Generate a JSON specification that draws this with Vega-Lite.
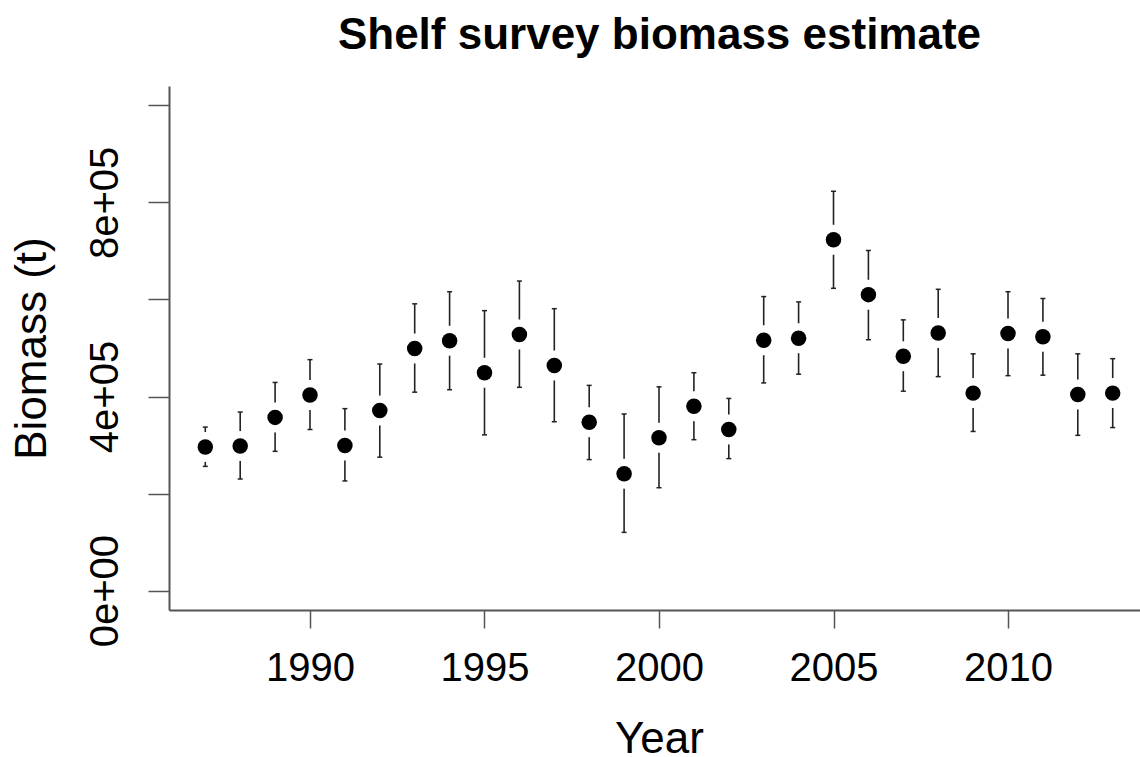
{
  "$schema": "https://vega.github.io/schema/vega-lite/v6.json",
  "width": 971,
  "height": 524,
  "autosize": {"type": "none"},
  "padding": {"left": 169, "top": 86, "right": 0, "bottom": 147},
  "background": "white",
  "config": {"view": {"stroke": null}, "font": "Liberation Sans"},
  "title": {
    "text": "Shelf survey biomass estimate",
    "font": "Liberation Sans",
    "fontSize": 44,
    "fontWeight": "bold",
    "color": "black",
    "anchor": "middle",
    "frame": "group",
    "baseline": "alphabetic",
    "offset": -7,
    "dx": 5
  },
  "data": {
    "values": [
      {"year": 1987, "biomass": 296000, "lower": 256000, "upper": 337000},
      {"year": 1988, "biomass": 298000, "lower": 230000, "upper": 368000},
      {"year": 1989, "biomass": 357000, "lower": 287000, "upper": 429000},
      {"year": 1990, "biomass": 403000, "lower": 332000, "upper": 476000},
      {"year": 1991, "biomass": 299000, "lower": 226000, "upper": 375000},
      {"year": 1992, "biomass": 371000, "lower": 275000, "upper": 467000},
      {"year": 1993, "biomass": 499000, "lower": 409000, "upper": 591000},
      {"year": 1994, "biomass": 515000, "lower": 414000, "upper": 616000},
      {"year": 1995, "biomass": 449000, "lower": 321000, "upper": 577000},
      {"year": 1996, "biomass": 528000, "lower": 419000, "upper": 638000},
      {"year": 1997, "biomass": 464000, "lower": 348000, "upper": 581000},
      {"year": 1998, "biomass": 347000, "lower": 270000, "upper": 423000},
      {"year": 1999, "biomass": 241000, "lower": 120000, "upper": 364000},
      {"year": 2000, "biomass": 315000, "lower": 212000, "upper": 420000},
      {"year": 2001, "biomass": 380000, "lower": 311000, "upper": 449000},
      {"year": 2002, "biomass": 332000, "lower": 272000, "upper": 396000},
      {"year": 2003, "biomass": 516000, "lower": 428000, "upper": 606000},
      {"year": 2004, "biomass": 520000, "lower": 446000, "upper": 595000},
      {"year": 2005, "biomass": 723000, "lower": 623000, "upper": 823000},
      {"year": 2006, "biomass": 610000, "lower": 517000, "upper": 701000},
      {"year": 2007, "biomass": 483000, "lower": 411000, "upper": 558000},
      {"year": 2008, "biomass": 531000, "lower": 441000, "upper": 621000},
      {"year": 2009, "biomass": 407000, "lower": 328000, "upper": 488000},
      {"year": 2010, "biomass": 530000, "lower": 443000, "upper": 616000},
      {"year": 2011, "biomass": 523000, "lower": 444000, "upper": 602000},
      {"year": 2012, "biomass": 404000, "lower": 320000, "upper": 488000},
      {"year": 2013, "biomass": 407000, "lower": 336000, "upper": 478000}
    ]
  },
  "encoding": {
    "x": {
      "field": "year",
      "type": "quantitative",
      "scale": {"domain": [1985.96, 2013.782], "nice": false, "zero": false},
      "axis": {
        "title": "Year",
        "values": [1990, 1995, 2000, 2005, 2010],
        "format": "d",
        "grid": false,
        "domainColor": "#555555",
        "domainWidth": 2,
        "tickColor": "#555555",
        "tickWidth": 1.5,
        "tickSize": 18,
        "labelFont": "Liberation Sans",
        "labelFontSize": 40,
        "labelColor": "black",
        "labelBaseline": "alphabetic",
        "labelPadding": 52,
        "labelFlush": false,
        "labelOverlap": false,
        "titleFont": "Liberation Sans",
        "titleFontSize": 44,
        "titleFontWeight": "normal",
        "titleColor": "black",
        "titleX": 490,
        "titleY": 142,
        "titleAlign": "center",
        "titleBaseline": "alphabetic"
      }
    }
  },
  "layer": [
    {
      "mark": {"type": "rule", "color": "#222222", "strokeWidth": 1.6},
      "encoding": {
        "y": {
          "field": "lower",
          "type": "quantitative",
          "title": "Biomass (t)",
          "scale": {"domain": [-40000, 1040000], "nice": false, "zero": false},
          "axis": {
            "values": [0, 200000, 400000, 600000, 800000, 1000000],
            "labelExpr": "datum.value == 0 ? '0e+00' : datum.value == 400000 ? '4e+05' : datum.value == 800000 ? '8e+05' : ''",
            "grid": false,
            "domainColor": "#555555",
            "domainWidth": 2,
            "tickColor": "#555555",
            "tickWidth": 1.5,
            "tickSize": 21,
            "labelFont": "Liberation Sans",
            "labelFontSize": 40,
            "labelColor": "black",
            "labelAngle": 270,
            "labelAlign": "center",
            "labelBaseline": "alphabetic",
            "labelPadding": 31,
            "labelOverlap": false,
            "labelFlush": false,
            "titleFont": "Liberation Sans",
            "titleFontSize": 44,
            "titleFontWeight": "normal",
            "titleColor": "black",
            "titleAngle": 270,
            "titleX": -124,
            "titleY": 262,
            "titleAlign": "center",
            "titleBaseline": "alphabetic"
          }
        },
        "y2": {"field": "upper"}
      }
    },
    {
      "mark": {"type": "tick", "orient": "horizontal", "size": 5, "thickness": 1.5, "color": "#222222", "opacity": 1},
      "encoding": {
        "y": {"field": "upper", "type": "quantitative", "title": "Biomass (t)", "scale": {"domain": [-40000, 1040000], "nice": false, "zero": false}}
      }
    },
    {
      "mark": {"type": "tick", "orient": "horizontal", "size": 5, "thickness": 1.5, "color": "#222222", "opacity": 1},
      "encoding": {
        "y": {"field": "lower", "type": "quantitative", "title": "Biomass (t)", "scale": {"domain": [-40000, 1040000], "nice": false, "zero": false}}
      }
    },
    {
      "mark": {"type": "point", "shape": "circle", "filled": true, "size": 900, "color": "white", "opacity": 1},
      "encoding": {
        "y": {"field": "biomass", "type": "quantitative", "title": "Biomass (t)", "scale": {"domain": [-40000, 1040000], "nice": false, "zero": false}}
      }
    },
    {
      "mark": {"type": "point", "shape": "circle", "filled": true, "size": 240, "color": "black", "opacity": 1},
      "encoding": {
        "y": {"field": "biomass", "type": "quantitative", "title": "Biomass (t)", "scale": {"domain": [-40000, 1040000], "nice": false, "zero": false}}
      }
    }
  ]
}
